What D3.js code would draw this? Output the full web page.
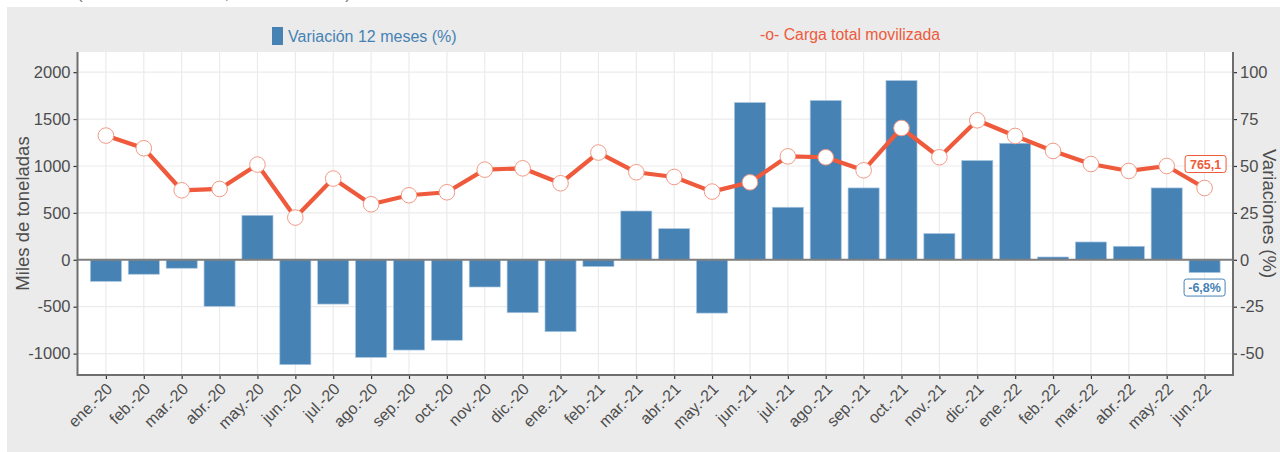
<!DOCTYPE html>
<html>
<head>
<meta charset="utf-8">
<script src="https://cdn.jsdelivr.net/npm/d3@7"></script>
<style>
  body { margin: 0; background: #fff; }
  svg { display: block; font-family: "Liberation Sans", Arial, sans-serif; }
</style>
</head>
<body>
<div id="vis-container"></div>
<script>
// months on the x axis
const months = [
  "ene.-20", "feb.-20", "mar.-20", "abr.-20", "may.-20", "jun.-20",
  "jul.-20", "ago.-20", "sep.-20", "oct.-20", "nov.-20", "dic.-20",
  "ene.-21", "feb.-21", "mar.-21", "abr.-21", "may.-21", "jun.-21",
  "jul.-21", "ago.-21", "sep.-21", "oct.-21", "nov.-21", "dic.-21",
  "ene.-22", "feb.-22", "mar.-22", "abr.-22", "may.-22", "jun.-22"
];

// carga total movilizada (miles de toneladas) - left axis
const carga = [
  1324, 1189, 741, 755, 1015, 450, 866, 592, 688, 720, 961, 975,
  816, 1143, 933, 883, 727, 826, 1103, 1093, 954, 1405, 1093, 1487,
  1320, 1160, 1021, 947, 1000, 765.1
];

// variacion 12 meses (%) - right axis
const variacion = [
  -11.5, -7.7, -4.5, -24.8, 23.7, -55.9, -23.6, -52.0, -48.1, -42.9, -14.5, -28.2,
  -38.3, -3.6, 26.0, 16.6, -28.4, 83.8, 28.0, 84.9, 38.3, 95.5, 14.0, 52.9,
  62.1, 1.5, 9.5, 7.2, 38.3, -6.8
];

const leftTicks = [-1000, -500, 0, 500, 1000, 1500, 2000];
const rightTicks = [-50, -25, 0, 25, 50, 75, 100];

const W = 1280, H = 452;
const plot = { left: 77.5, right: 1233, top: 52, bottom: 375 };
const barColor = "#4682B4";
const lineColor = "#EE5A3B";
const textColor = "#4D4D4D";
const gridColor = "#EBEBEB";

const svg = d3.select("#vis-container")
  .append("svg")
  .attr("width", W)
  .attr("height", H);

// outer grey background
svg.append("rect")
  .attr("x", 7).attr("y", 7)
  .attr("width", W - 7).attr("height", H - 7)
  .attr("fill", "#EBEBEB");

// title above, mostly outside the picture (only its lower edge shows)
svg.append("text")
  .attr("x", 77).attr("y", -1)
  .attr("fill", "#777")
  .style("font-size", "17px")
  .text("(Miles de toneladas, variación en %)");

// panel
svg.append("rect")
  .attr("x", plot.left).attr("y", plot.top)
  .attr("width", plot.right - plot.left).attr("height", plot.bottom - plot.top)
  .attr("fill", "#fff");

// scales
const x = d3.scalePoint()
  .domain(months)
  .range([plot.left, plot.right])
  .padding(0.75);

const yLeft = d3.scaleLinear()
  .domain([-1228, 2215])
  .range([plot.bottom, plot.top]);

const yRight = d3.scaleLinear()
  .domain([-61.4, 110.75])
  .range([plot.bottom, plot.top]);

const barW = x.step() * 0.82;

// grid lines
svg.append("g")
  .selectAll("line")
  .data(leftTicks)
  .enter()
  .append("line")
  .attr("x1", plot.left).attr("x2", plot.right)
  .attr("y1", (d) => yLeft(d)).attr("y2", (d) => yLeft(d))
  .attr("stroke", gridColor).attr("stroke-width", 1.2);

svg.append("g")
  .selectAll("line")
  .data(months)
  .enter()
  .append("line")
  .attr("x1", (d) => x(d)).attr("x2", (d) => x(d))
  .attr("y1", plot.top).attr("y2", plot.bottom)
  .attr("stroke", gridColor).attr("stroke-width", 1.2);

// bars
svg.append("g")
  .selectAll("rect")
  .data(variacion)
  .enter()
  .append("rect")
  .attr("x", (d, i) => x(months[i]) - barW / 2)
  .attr("width", barW)
  .attr("y", (d) => yRight(Math.max(0, d)))
  .attr("height", (d) => Math.abs(yRight(d) - yRight(0)))
  .attr("fill", barColor)
  .attr("stroke", "#A9C6E0")
  .attr("stroke-width", 0.7);

// zero line
svg.append("line")
  .attr("x1", plot.left).attr("x2", plot.right)
  .attr("y1", yLeft(0)).attr("y2", yLeft(0))
  .attr("stroke", "#7F7F7F").attr("stroke-width", 2);

// line + points
const line = d3.line()
  .x((d, i) => x(months[i]))
  .y((d) => yLeft(d));

svg.append("path")
  .datum(carga)
  .attr("d", line)
  .attr("fill", "none")
  .attr("stroke", lineColor)
  .attr("stroke-width", 4.2)
  .attr("stroke-linejoin", "round");

svg.append("g")
  .selectAll("circle")
  .data(carga)
  .enter()
  .append("circle")
  .attr("cx", (d, i) => x(months[i]))
  .attr("cy", (d) => yLeft(d))
  .attr("r", 7.8)
  .attr("fill", "#fff")
  .attr("stroke", "#F29A86")
  .attr("stroke-width", 1);

// axes
const styleAxis = (g) => {
  g.select(".domain").remove();
  g.selectAll(".tick line").attr("stroke", "#333").attr("stroke-width", 1.2);
  g.selectAll(".tick text")
    .attr("fill", textColor)
    .style("font-size", "16.5px")
    .style("font-family", "'Liberation Sans', Arial, sans-serif");
};

svg.append("g")
  .attr("transform", "translate(" + plot.left + ",0)")
  .call(d3.axisLeft(yLeft).tickValues(leftTicks).tickFormat((d) => String(d)).tickSize(4).tickPadding(3))
  .call(styleAxis);

svg.append("g")
  .attr("transform", "translate(" + plot.right + ",0)")
  .call(d3.axisRight(yRight).tickValues(rightTicks).tickFormat((d) => String(d)).tickSize(4).tickPadding(3))
  .call(styleAxis);

const xAxis = svg.append("g")
  .attr("transform", "translate(0," + plot.bottom + ")")
  .call(d3.axisBottom(x).tickSize(4))
  .call(styleAxis);

xAxis.selectAll(".tick text")
  .attr("x", 0).attr("y", 0).attr("dy", 0)
  .attr("text-anchor", "end")
  .attr("transform", "translate(7,15) rotate(-45)")
  .style("font-size", "16px");

// axis lines (left, right, bottom)
const frame = d3.path();
frame.moveTo(plot.left, plot.top);
frame.lineTo(plot.left, plot.bottom);
frame.lineTo(plot.right, plot.bottom);
frame.lineTo(plot.right, plot.top);
svg.append("path")
  .attr("d", frame.toString())
  .attr("fill", "none")
  .attr("stroke", "#6E6E6E")
  .attr("stroke-width", 2);

// axis titles
svg.append("text")
  .attr("transform", "translate(29," + (plot.top + plot.bottom) / 2 + ") rotate(-90)")
  .attr("text-anchor", "middle")
  .attr("fill", textColor)
  .style("font-size", "18.5px")
  .text("Miles de toneladas");

svg.append("text")
  .attr("transform", "translate(1263," + (plot.top + plot.bottom) / 2 + ") rotate(90)")
  .attr("text-anchor", "middle")
  .attr("fill", textColor)
  .style("font-size", "18.5px")
  .text("Variaciones (%)");

// legend
svg.append("rect")
  .attr("x", 272).attr("y", 27)
  .attr("width", 11).attr("height", 18)
  .attr("fill", barColor);
svg.append("text")
  .attr("x", 288).attr("y", 42)
  .attr("fill", barColor)
  .style("font-size", "16px")
  .text("Variación 12 meses (%)");
svg.append("text")
  .attr("x", 760).attr("y", 40)
  .attr("fill", lineColor)
  .style("font-size", "15.8px")
  .text("-o- Carga total movilizada");

// end labels
const last = months.length - 1;
const addLabel = (cx, cy, txt, color) => {
  const g = svg.append("g");
  g.append("rect")
    .attr("x", cx - 20.5).attr("y", cy - 8.5)
    .attr("width", 41).attr("height", 17)
    .attr("rx", 2.5)
    .attr("fill", "#fff")
    .attr("stroke", color)
    .attr("stroke-width", 1);
  g.append("text")
    .attr("x", cx).attr("y", cy + 4.5)
    .attr("text-anchor", "middle")
    .attr("fill", color)
    .style("font-size", "12.5px")
    .style("font-weight", "bold")
    .text(txt);
};
addLabel(x(months[last]) + 1, yLeft(carga[last]) - 24, String(carga[last]).replace(".", ","), lineColor);
addLabel(x(months[last]), yRight(variacion[last]) + 15, String(variacion[last]).replace(".", ",") + "%", barColor);
</script>
</body>
</html>
